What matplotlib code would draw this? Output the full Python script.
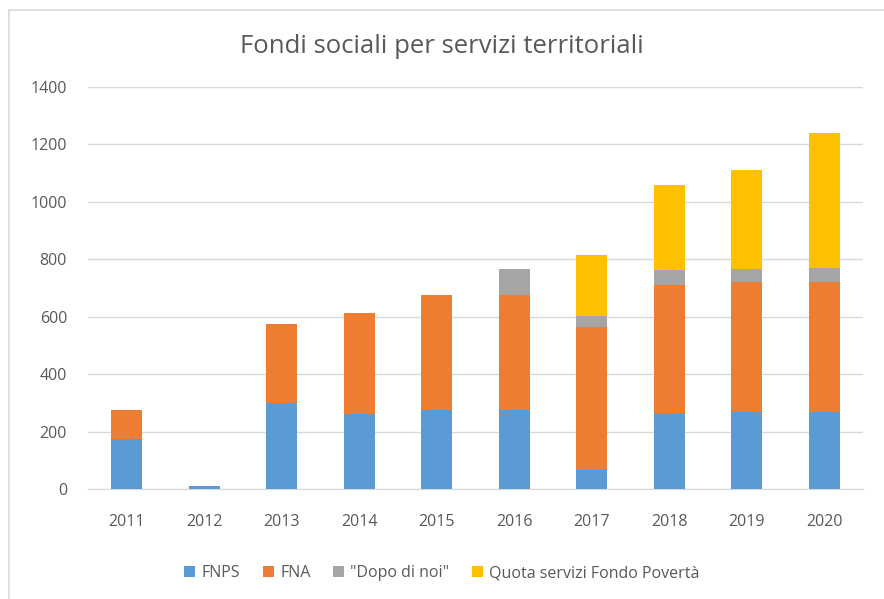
import matplotlib
matplotlib.use('Agg')
import matplotlib.pyplot as plt
import numpy as np

# data
years = ['2011', '2012', '2013', '2014', '2015', '2016', '2017', '2018', '2019', '2020']
fnps = [175, 10, 300, 262, 276, 275, 66, 263, 269, 269]
fna = [100, 0, 274, 352, 399, 400, 498, 447, 451, 451]
dopo_di_noi = [0, 0, 0, 0, 0, 90, 38, 52, 46, 51]
quota_poverta = [0, 0, 0, 0, 0, 0, 214, 298, 346, 469]

series = [
    ('FNPS', fnps, '#5B9BD5'),
    ('FNA', fna, '#ED7D31'),
    ('"Dopo di noi"', dopo_di_noi, '#A5A5A5'),
    ('Quota servizi Fondo Povertà', quota_poverta, '#FFC000'),
]

plt.rcParams['font.family'] = ['Open Sans', 'DejaVu Sans']
grey = '#595959'

fig = plt.figure(figsize=(8.84, 5.99), dpi=100)
ax = fig.add_axes([0.0995, 0.1836, 0.8767, 0.6712])

x = np.arange(len(years))
bottom = np.zeros(len(years))
for name, vals, col in series:
    vals = np.array(vals, dtype=float)
    ax.bar(x, vals, width=0.4, bottom=bottom, color=col, label=name, zorder=3)
    bottom += vals

ax.set_xlim(-0.5, len(years) - 0.5)
ax.set_ylim(0, 1400)
ax.set_yticks(range(0, 1401, 200))
ax.set_xticks(x)
ax.set_xticklabels(years)
ax.grid(axis='y', color='#D9D9D9', linewidth=1, zorder=0)
for s in ['top', 'right', 'left']:
    ax.spines[s].set_visible(False)
ax.spines['bottom'].set_color('#D9D9D9')
ax.tick_params(length=0, colors=grey, labelsize=11.5)
ax.tick_params(axis='x', pad=18)
ax.tick_params(axis='y', pad=15)

fig.text(0.5, 0.922, 'Fondi sociali per servizi territoriali', ha='center', va='center',
         fontsize=18.5, color=grey)

fig.legend(loc='center', bbox_to_anchor=(0.5, 0.043), ncol=4, frameon=False,
           fontsize=11.5, labelcolor=grey, handlelength=0.7, handleheight=0.7,
           handletextpad=0.4, columnspacing=1.4)

# outer chart frame (only left and top edges visible in the picture)
fig.add_artist(plt.Rectangle((9 / 884, -0.1), 1.2, 1.1 - 10 / 599,
                             transform=fig.transFigure, fill=False,
                             edgecolor='#D9D9D9', linewidth=1.2))

fig.savefig('out.png', dpi=100)
